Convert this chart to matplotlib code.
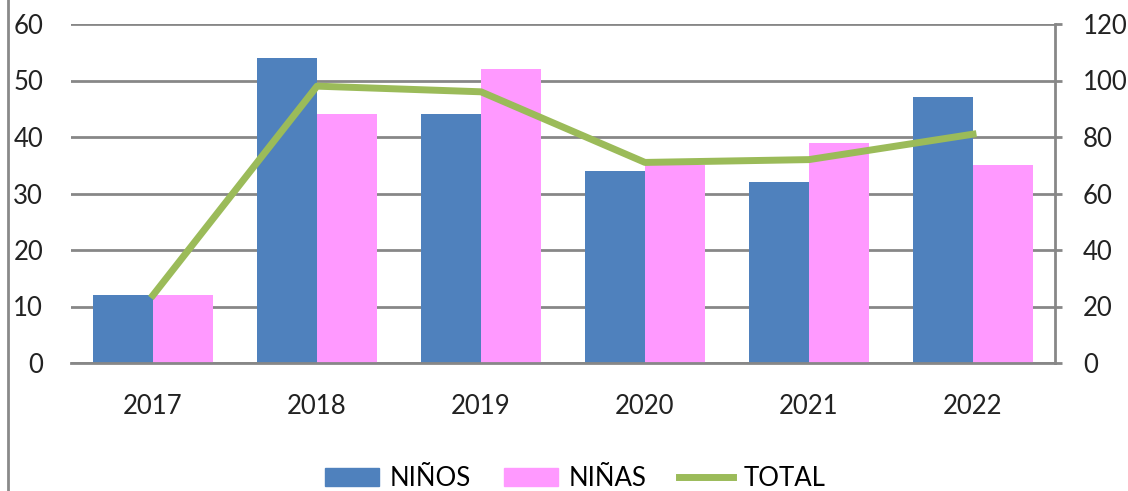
import numpy as np
import matplotlib
matplotlib.use("Agg")
import matplotlib.pyplot as plt
from matplotlib.lines import Line2D

years = ["2017", "2018", "2019", "2020", "2021", "2022"]
ninos = [12, 54, 44, 34, 32, 47]
ninas = [12, 44, 52, 35, 39, 35]
total = [24, 98, 96, 71, 72, 81]

plt.rcParams['font.family'] = ['Lato', 'DejaVu Sans']

fig = plt.figure(figsize=(11.28, 4.91), dpi=100)
ax = fig.add_axes([71 / 1128, 1 - 363 / 491, (1055 - 71) / 1128, (363 - 24) / 491])
ax2 = ax.twinx()

x = np.arange(len(years))
w = 0.366
ax.bar(x - w / 2, ninos, w, color="#4F81BD", zorder=2, label="NIÑOS")
ax.bar(x + w / 2, ninas, w, color="#FF99FF", zorder=2, label="NIÑAS")
ax2.plot(x, total, color="#9BBB59", lw=5, zorder=3, label="TOTAL")

ax.set_xlim(-0.5, len(years) - 0.5)
ax.set_ylim(0, 60)
ax2.set_ylim(0, 120)
ax.set_yticks(range(0, 61, 10))
ax2.set_yticks(range(0, 121, 20))
ax.set_xticks(x)
ax.set_xticklabels(years)

ax.yaxis.grid(True, color="#878787", lw=2)
ax.set_axisbelow(True)
for s in ["top", "left", "right"]:
    ax.spines[s].set_visible(False)
    ax2.spines[s].set_visible(False)
ax2.spines["bottom"].set_visible(False)
ax.spines["bottom"].set_color("#878787")
ax.spines["bottom"].set_linewidth(2)
ax2.spines["right"].set_visible(True)
ax2.spines["right"].set_color("#878787")
ax2.spines["right"].set_linewidth(2)

fs = 18.5
ax.tick_params(axis="y", length=0, pad=20, labelsize=fs, colors="#222222")
ax.tick_params(axis="x", length=0, pad=22, labelsize=fs, colors="#222222")
ax2.tick_params(axis="y", length=5, width=2, color="#878787", pad=15,
                labelsize=fs, labelcolor="#222222")

handles = [plt.Rectangle((0, 0), 1, 1, color="#4F81BD"),
           plt.Rectangle((0, 0), 1, 1, color="#FF99FF"),
           Line2D([0], [0], color="#9BBB59", lw=5)]
fig.legend(handles, ["NIÑOS", "NIÑAS", "TOTAL"], loc="center",
           bbox_to_anchor=(0.51, 1 - 478 / 491), ncol=3, frameon=False,
           fontsize=fs, handlelength=2.1, handleheight=0.7, columnspacing=1.3,
           handletextpad=0.4, borderpad=0)

fig.add_artist(Line2D([8 / 1128, 8 / 1128], [0, 1], color="#8a8a8a", lw=2))

fig.savefig("out.png", dpi=100)
